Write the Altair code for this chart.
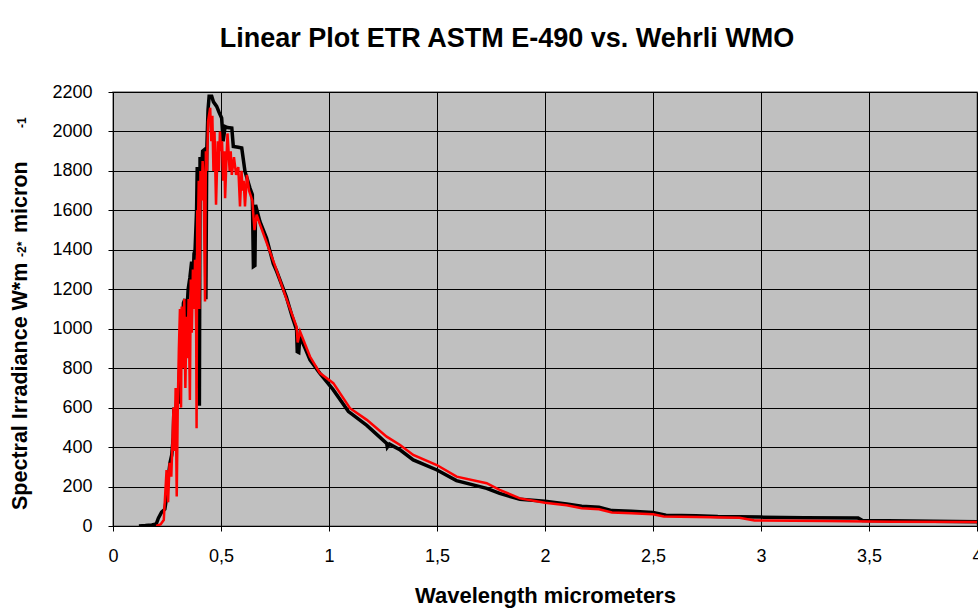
import altair as alt
import pandas as pd

# ASTM E-490 (black)
e490_wl = [0.12, 0.15, 0.18, 0.2, 0.21, 0.225, 0.24, 0.25, 0.256, 0.264, 0.272, 0.279, 0.282, 0.29, 0.295,
           0.302, 0.31, 0.318, 0.326, 0.333, 0.34, 0.348, 0.356, 0.364, 0.37, 0.375, 0.38, 0.387, 0.39, 0.393,
           0.397, 0.40, 0.403, 0.41, 0.415, 0.426, 0.43, 0.434, 0.44, 0.445, 0.457, 0.465, 0.48, 0.49, 0.503,
           0.51, 0.519, 0.53, 0.55, 0.557, 0.58, 0.596, 0.611, 0.634, 0.645, 0.65, 0.657, 0.66, 0.68, 0.711,
           0.742, 0.758, 0.802, 0.83, 0.85, 0.853, 0.86, 0.865, 0.89, 0.912, 0.958, 1.02, 1.09, 1.1, 1.175,
           1.267, 1.27, 1.28, 1.33, 1.39, 1.5, 1.59, 1.73, 1.79, 1.884, 2.0, 2.1, 2.17, 2.25, 2.31, 2.4, 2.5,
           2.56, 2.7, 2.8, 3.0, 3.2, 3.45, 3.47, 3.7, 4.0]
e490_irr = [0, 2, 5, 10, 40, 70, 85, 160, 250, 320, 360, 450, 600, 560, 640,
            620, 840, 800, 1130, 1150, 1050, 1200, 1260, 1340, 1200, 1380, 1400, 1600, 1820, 700,
            1700, 610, 1870, 1800, 1900, 1910, 1150, 1900, 2110, 2178, 2178, 2150, 2127, 2100, 2068,
            1950, 2025, 2020, 2017, 1924, 1920, 1916, 1797, 1713, 1680, 1315, 1320, 1628, 1544, 1459,
            1330, 1290, 1163, 1060, 994, 884, 880, 960, 900, 842, 774, 690, 580, 572, 510,
            419, 400, 415, 385, 335, 284, 230, 191, 165, 135, 125, 112, 100, 95, 78, 75, 68,
            55, 52, 48, 45, 42, 40, 28, 25, 22]

# Wehrli WMO (red)
wehrli_wl = [0.2, 0.22, 0.235, 0.248, 0.255, 0.262, 0.27, 0.28, 0.285, 0.29, 0.295, 0.30, 0.305, 0.31, 0.315,
             0.318, 0.323, 0.33, 0.335, 0.34, 0.345, 0.35, 0.356, 0.36, 0.365, 0.37, 0.375, 0.38, 0.385, 0.387,
             0.39, 0.393, 0.397, 0.40, 0.405, 0.41, 0.415, 0.42, 0.426, 0.43, 0.435, 0.44, 0.45, 0.455, 0.46,
             0.465, 0.47, 0.477, 0.485, 0.49, 0.495, 0.50, 0.505, 0.51, 0.515, 0.519, 0.525, 0.53, 0.54, 0.545,
             0.55, 0.56, 0.57, 0.58, 0.588, 0.595, 0.6, 0.605, 0.611, 0.62, 0.63, 0.645, 0.655, 0.665, 0.68,
             0.7, 0.75, 0.8, 0.85, 0.855, 0.866, 0.912, 0.958, 1.02, 1.097, 1.175, 1.267, 1.329, 1.39, 1.499,
             1.591, 1.73, 1.79, 1.884, 2.0, 2.1, 2.17, 2.25, 2.31, 2.4, 2.5, 2.55, 2.7, 2.9, 2.97, 3.3, 3.6, 4.0]
wehrli_irr = [0, 8, 30, 284, 120, 320, 250, 600, 380, 700, 149, 620, 900, 1100, 600,
              1112, 800, 1150, 700, 1060, 850, 1150, 639, 1250, 980, 1300, 1100, 1350, 1000, 495,
              1600, 1500, 1750, 1100, 1800, 1650, 1850, 1750, 1138, 1900, 1800, 2050, 2120, 1950, 2080,
              1800, 2000, 1628, 1950, 1800, 2000, 1900, 1950, 1750, 1900, 1662, 1850, 1990, 1800, 1900,
              1780, 1870, 1780, 1820, 1620, 1800, 1700, 1750, 1620, 1780, 1700, 1650, 1500, 1578, 1530,
              1470, 1320, 1160, 1010, 930, 986, 859, 775, 724, 597, 538, 453, 411, 360, 309,
              250, 217, 183, 140, 118, 105, 90, 85, 68, 65, 60, 48, 45, 42, 28, 25, 22, 20]

x_ticks = [0, 0.5, 1, 1.5, 2, 2.5, 3, 3.5, 4]
y_ticks = [0, 200, 400, 600, 800, 1000, 1200, 1400, 1600, 1800, 2000, 2200]

title_text = "Linear Plot ETR ASTM E-490 vs. Wehrli WMO"
x_title = "Wavelength micrometers"
y_title_main = "Spectral Irradiance W*m"
y_title_sup1 = "-2*"
y_title_mid = "micron"
y_title_sup2 = "-1"

FONT = "Liberation Sans"

black_df = pd.DataFrame({"wl": e490_wl, "irr": e490_irr, "i": range(len(e490_wl))})
red_df = pd.DataFrame({"wl": wehrli_wl, "irr": wehrli_irr, "i": range(len(wehrli_wl))})

x_enc = alt.X("wl:Q", scale=alt.Scale(domain=[0, 4], nice=False, zero=False),
              axis=alt.Axis(values=x_ticks, title=x_title,
                            labelExpr="replace(toString(datum.value), '.', ',')"))
y_enc = alt.Y("irr:Q", scale=alt.Scale(domain=[0, 2200], nice=False),
              axis=alt.Axis(values=y_ticks, title=None, labelExpr="toString(datum.value)"))

black = alt.Chart(black_df).mark_line(color="#000000", strokeWidth=3.5, clip=True).encode(
    x=x_enc, y=y_enc, order="i:Q")
red = alt.Chart(red_df).mark_line(color="#FF0000", strokeWidth=2.5, clip=True).encode(
    x=x_enc, y=y_enc, order="i:Q")


def ytext(txt, y, size, x=-86):
    return alt.Chart(pd.DataFrame({"t": [txt]})).mark_text(
        angle=270, align="left", baseline="alphabetic", font=FONT, fontSize=size,
        fontWeight="bold", color="#000000").encode(
        text="t:N", x=alt.value(x), y=alt.value(y))


layers = [black, red,
          ytext(y_title_main, 418, 21.5),
          ytext(y_title_sup1, 165, 12, x=-87),
          ytext(y_title_mid, 141, 21.5),
          ytext(y_title_sup2, 36, 12, x=-87)]

chart = alt.layer(*layers).properties(
    width=864, height=434,
    autosize=alt.AutoSizeParams(type="none"),
    padding={"left": 113, "top": 92, "right": 1, "bottom": 84},
    title=alt.TitleParams(text=title_text, font=FONT, fontSize=27, fontWeight="bold",
                          color="#000000", anchor="middle", dx=-38, offset=30),
    background="#FFFFFF",
).configure_view(
    fill="#C0C0C0", stroke="#808080", strokeWidth=1.5
).configure_axis(
    labelFont=FONT, labelFontSize=18, labelColor="#000000",
    titleFont=FONT, titleFontSize=22, titleFontWeight="bold", titleColor="#000000",
    gridColor="#000000", gridWidth=1, gridOpacity=1,
    domainColor="#000000", domainWidth=1,
    tickColor="#000000", tickSize=5, tickWidth=1,
).configure_axisX(
    labelPadding=16, titlePadding=20, labelFlush=False
).configure_axisY(
    labelPadding=16
)

chart.save("out.html", embed_options={"renderer": "svg", "actions": False})
